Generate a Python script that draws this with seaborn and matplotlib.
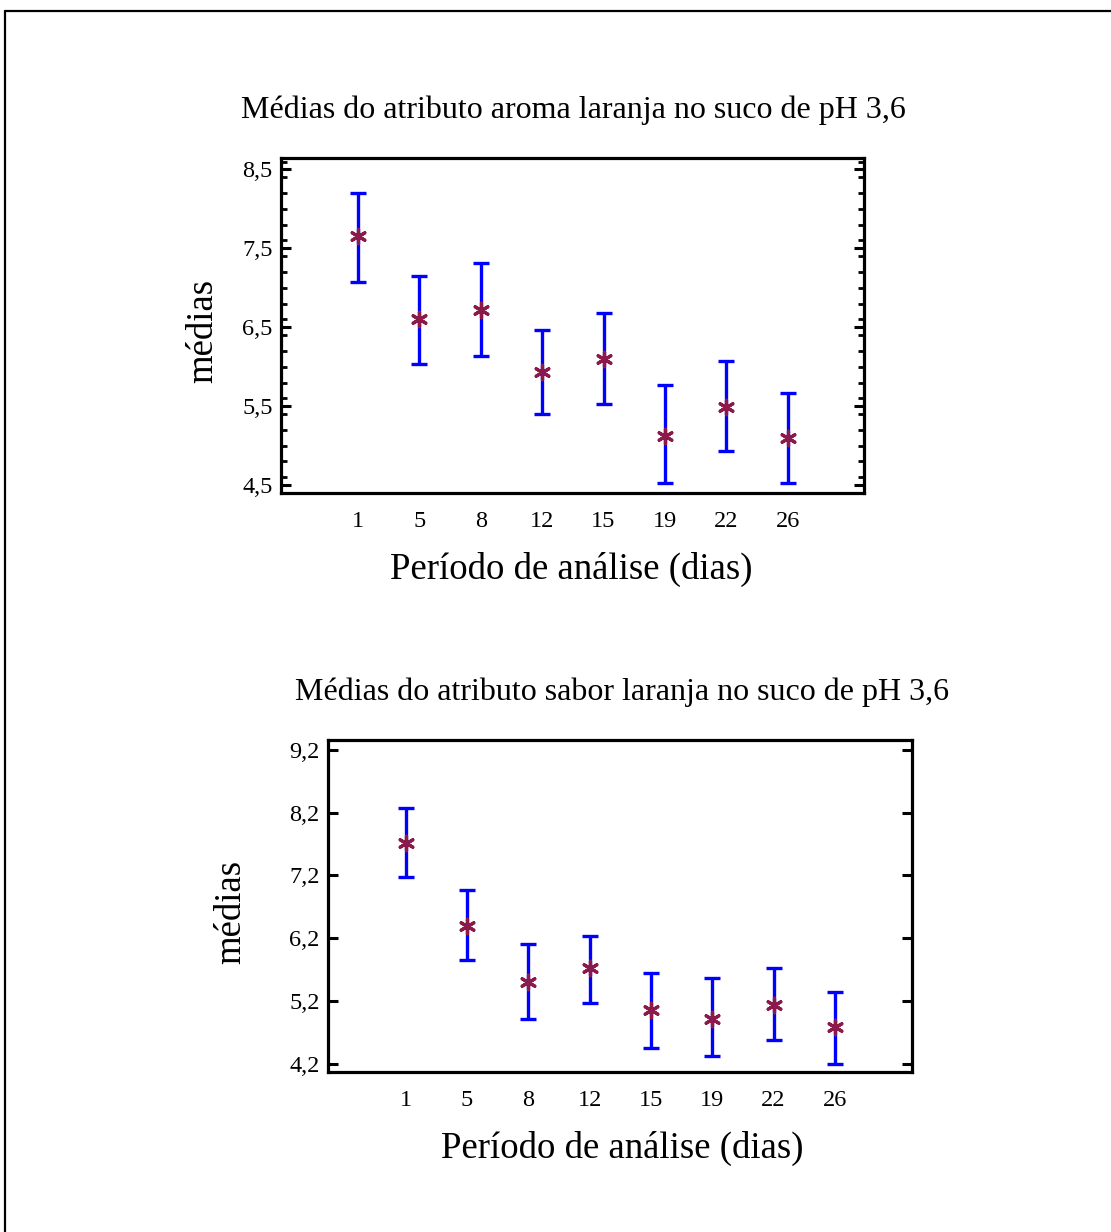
import numpy as np
import pandas as pd
import matplotlib
matplotlib.use("Agg")
import matplotlib.pyplot as plt
from matplotlib.lines import Line2D
from matplotlib.ticker import MultipleLocator, FixedLocator
import seaborn as sns

# ---------------- data ----------------
days = ["1", "5", "8", "12", "15", "19", "22", "26"]

aroma_mean = [7.66, 6.61, 6.72, 5.93, 6.10, 5.12, 5.49, 5.10]
aroma_upper = [8.20, 7.15, 7.32, 6.47, 6.68, 5.77, 6.07, 5.67]
aroma_lower = [7.08, 6.04, 6.14, 5.40, 5.53, 4.53, 4.93, 4.53]

sabor_mean = [7.71, 6.40, 5.51, 5.73, 5.05, 4.92, 5.13, 4.78]
sabor_upper = [8.28, 6.96, 6.11, 6.23, 5.64, 5.56, 5.73, 5.34]
sabor_lower = [7.17, 5.85, 4.92, 5.17, 4.45, 4.32, 4.58, 4.20]

aroma_yticks = [4.5, 5.5, 6.5, 7.5, 8.5]
sabor_yticks = [4.2, 5.2, 6.2, 7.2, 8.2, 9.2]

title_aroma = "Médias do atributo aroma laranja no suco de pH 3,6"
title_sabor = "Médias do atributo sabor laranja no suco de pH 3,6"
xlabel = "Período de análise (dias)"
ylabel = "médias"

# ---------------- style ----------------
sns.set_style("white")
plt.rcParams["font.family"] = ["Liberation Serif", "DejaVu Serif"]
plt.rcParams["text.color"] = "black"
plt.rcParams["axes.labelcolor"] = "black"
plt.rcParams["xtick.color"] = "black"
plt.rcParams["ytick.color"] = "black"

W, H = 1111, 1232
fig = plt.figure(figsize=(W / 100, H / 100), dpi=100)

BLUE = "#0000FF"
MARK = "#8B1A4A"


def px(x, y):
    return x / W, 1 - y / H


def make_panel(rect, mean, lower, upper, yticks, ylim, xlim, minor):
    ax = fig.add_axes(rect)
    df = pd.DataFrame({"dia": days, "media": mean,
                       "inf": lower, "sup": upper})
    yerr = [df["media"] - df["inf"], df["sup"] - df["media"]]
    ax.errorbar(df["dia"], df["media"], yerr=yerr, fmt="none",
                ecolor=BLUE, elinewidth=2.4, capsize=5.5, capthick=2.4,
                zorder=2)
    sns.scatterplot(data=df, x="dia", y="media", ax=ax,
                    marker=(6, 2, 0), s=110, color=MARK,
                    linewidth=2.3, edgecolor=MARK, zorder=3, legend=False)
    ax.set_xlim(*xlim)
    ax.set_ylim(*ylim)
    ax.yaxis.set_major_locator(FixedLocator(yticks))
    ax.set_yticklabels([f"{t:.1f}".replace(".", ",") for t in yticks])
    if minor:
        ax.yaxis.set_minor_locator(MultipleLocator(0.2))
        ax.tick_params(axis="y", which="minor", direction="in",
                       length=4.5, width=2.0, left=True, right=True)
    ax.tick_params(axis="y", which="major", direction="in", length=7.5,
                   width=2.2, left=True, right=True, labelsize=17.5,
                   pad=6, colors="black")
    ax.tick_params(axis="x", which="both", length=0, labelsize=17.5,
                   pad=13, colors="black")
    for sp in ax.spines.values():
        sp.set_linewidth(2.3)
        sp.set_color("black")
        sp.set_visible(True)
    ax.set_xlabel("")
    ax.set_ylabel("")
    ax.grid(False)
    return ax


# top panel
l, t = 281, 158
r, b = 864, 493
ax1 = make_panel([l / W, 1 - b / H, (r - l) / W, (b - t) / H],
                 aroma_mean, aroma_lower, aroma_upper, aroma_yticks,
                 (4.40, 8.645), (-1.25, 8.24), True)

# bottom panel
l, t = 328, 740
r, b = 912, 1072
ax2 = make_panel([l / W, 1 - b / H, (r - l) / W, (b - t) / H],
                 sabor_mean, sabor_lower, sabor_upper, sabor_yticks,
                 (4.07, 9.355), (-1.27, 8.26), False)

# texts
fig.text(*px(573, 110), title_aroma, ha="center", va="center", fontsize=23)
fig.text(*px(571, 569), xlabel, ha="center", va="center", fontsize=26.5)
fig.text(*px(203, 331), ylabel, ha="center", va="center", fontsize=26.5,
         rotation=90)

fig.text(*px(622, 692), title_sabor, ha="center", va="center", fontsize=23)
fig.text(*px(622, 1148), xlabel, ha="center", va="center", fontsize=26.5)
fig.text(*px(231, 912), ylabel, ha="center", va="center", fontsize=26.5,
         rotation=90)

# outer frame (left and top edges)
fig.add_artist(Line2D([5 / W, 5 / W], [0, 1 - 11 / H],
                      transform=fig.transFigure, color="black", lw=1.6))
fig.add_artist(Line2D([5 / W, 1], [1 - 11 / H, 1 - 11 / H],
                      transform=fig.transFigure, color="black", lw=1.6))

fig.savefig("out.png", dpi=100, facecolor="white")
